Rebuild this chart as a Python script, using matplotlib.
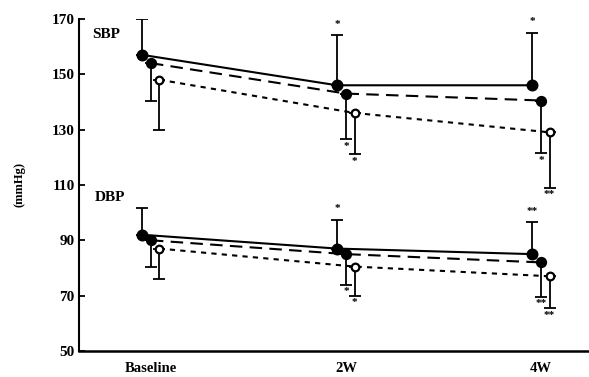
import numpy as np
import matplotlib
matplotlib.use("Agg")
import matplotlib.pyplot as plt

# data (mmHg)
times = ["Baseline", "2W", "4W"]

sbp_a = [157, 146, 146]
sbp_a_err = [13, 18, 19]
sbp_a_sig = ["", "*", "*"]
sbp_b = [154, 143, 140.5]
sbp_b_err = [13.5, 16.5, 19]
sbp_b_sig = ["", "*", "*"]
sbp_c = [148, 136, 129]
sbp_c_err = [18, 15, 20]
sbp_c_sig = ["", "*", "**"]

dbp_a = [92, 87, 85]
dbp_a_err = [9.5, 10.5, 11.5]
dbp_a_sig = ["", "*", "**"]
dbp_b = [90, 85, 82]
dbp_b_err = [9.5, 11, 12.5]
dbp_b_sig = ["", "*", "**"]
dbp_c = [87, 80.5, 77]
dbp_c_err = [11, 10.5, 11.5]
dbp_c_sig = ["", "*", "**"]

plt.rcParams["font.family"] = ["Liberation Serif", "DejaVu Serif"]
plt.rcParams["font.weight"] = "bold"

fig = plt.figure(figsize=(5.89, 3.77), dpi=100)
ax = fig.add_axes([0.134, 0.069, 0.866, 0.881])

x = np.arange(len(times))
offs = [-0.046, 0.0, 0.044]


def series(vals, errs, sigs, off, ls, mfc, ms, up, dashes=None):
    xs = x + off
    kw = dict(color="black", lw=1.5, marker="o", ms=ms, mfc=mfc, mec="black",
              mew=1.6, zorder=3)
    line, = ax.plot(xs, vals, ls=ls, **kw)
    if dashes:
        line.set_dashes(dashes)
    e = np.array(errs)
    yerr = [np.zeros_like(e), e] if up else [e, np.zeros_like(e)]
    ax.errorbar(xs, vals, yerr=yerr, fmt="none", ecolor="black", elinewidth=1.3,
                capsize=4, capthick=1.3, zorder=2)
    for xi, v, er, s in zip(xs, vals, errs, sigs):
        if not s:
            continue
        end = v + er if up else v - er
        dy = 8 if up else -5
        ax.annotate(s, (xi, end), xytext=(0, dy), textcoords="offset points",
                    ha="center", va="center", fontsize=8, fontweight="bold")


for grp in [(sbp_a, sbp_a_err, sbp_a_sig), (dbp_a, dbp_a_err, dbp_a_sig)]:
    series(*grp, offs[0], "-", "black", 7, True)
for grp in [(sbp_b, sbp_b_err, sbp_b_sig), (dbp_b, dbp_b_err, dbp_b_sig)]:
    series(*grp, offs[1], "--", "black", 6.5, False, dashes=(6, 3.5))
for grp in [(sbp_c, sbp_c_err, sbp_c_sig), (dbp_c, dbp_c_err, dbp_c_sig)]:
    series(*grp, offs[2], "--", "white", 5.5, False, dashes=(2.5, 2.5))

ax.text(-0.3, 164.5, "SBP", fontsize=11, fontweight="bold", va="center")
ax.text(-0.29, 105.5, "DBP", fontsize=11, fontweight="bold", va="center")

ax.set_ylim(50, 170)
ax.set_xlim(-0.369, 2.246)
ax.set_yticks(range(50, 171, 20))
ax.set_xticks(x)
ax.set_xticklabels(times)
ax.tick_params(axis="y", direction="in", length=4, width=1.3, labelsize=11, pad=3)
ax.tick_params(axis="x", length=0, labelsize=10.5, pad=8)
for lab in ax.get_xticklabels() + ax.get_yticklabels():
    lab.set_fontweight("bold")
ax.set_ylabel("(mmHg)", fontsize=9, fontweight="bold")
ax.yaxis.set_label_coords(-0.105, 0.5)
for s in ["top", "right"]:
    ax.spines[s].set_visible(False)
ax.spines["left"].set_linewidth(1.5)
ax.spines["bottom"].set_linewidth(1.8)

fig.savefig("out.png", dpi=100)
